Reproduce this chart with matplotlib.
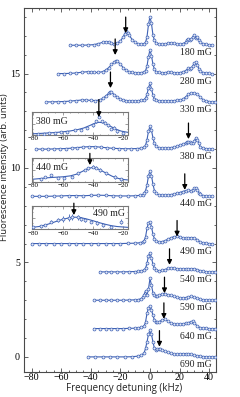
import matplotlib
matplotlib.use('Agg')
import matplotlib.pyplot as plt
from matplotlib.ticker import MultipleLocator

# ---------------- data ----------------
labels = ['180 mG', '280 mG', '330 mG', '380 mG', '440 mG',
          '490 mG', '540 mG', '590 mG', '640 mG', '690 mG']
offsets = [16.5, 15.0, 13.5, 11.0, 8.5, 6.0, 4.5, 3.0, 1.5, 0.0]

x180 = [-54, -50, -46, -42, -38, -35, -32, -30, -28, -26, -24, -22, -20, -18, -17, -16, -15, -14, -12, -10,
        -8, -6, -4, -3, -2, -1, 0, 1, 2, 3, 4, 6, 8, 10, 12, 14, 16, 18, 20, 22, 24, 25, 26, 27, 28, 29,
        30, 31, 32, 33, 34, 36, 38, 40, 42]
y180 = [0, 0, 0, 0.01, 0.03, 0.08, 0.15, 0.19, 0.17, 0.1, 0.08, 0.12, 0.22, 0.45, 0.62, 0.75, 0.66, 0.52, 0.3, 0.15,
        0.08, 0.06, 0.08, 0.15, 0.45, 1.1, 1.5, 1.15, 0.55, 0.25, 0.12, 0.06, 0.05, 0.06, 0.1, 0.14, 0.1, 0.05, 0.05, 0.08, 0.15, 0.3,
        0.32, 0.25, 0.35, 0.45, 0.55, 0.4, 0.45, 0.3, 0.15, 0.08, 0.04, 0.02, 0.01]

x280 = [-62, -58, -54, -50, -46, -42, -40, -38, -35, -32, -30, -28, -26, -24, -23, -22, -20, -18, -16, -14,
        -12, -10, -8, -6, -4, -3, -2, -1, 0, 1, 2, 3, 4, 6, 8, 10, 12, 14, 16, 18, 20, 22, 24, 26, 27, 28,
        29, 30, 31, 32, 33, 34, 36, 38, 40, 42]
y280 = [0, 0, 0.01, 0.03, 0.07, 0.1, 0.09, 0.06, 0.06, 0.1, 0.18, 0.3, 0.48, 0.62, 0.67, 0.64, 0.5, 0.3, 0.17, 0.1,
        0.06, 0.04, 0.04, 0.05, 0.08, 0.15, 0.4, 0.9, 1.25, 0.95, 0.5, 0.22, 0.1, 0.06, 0.04, 0.05, 0.07, 0.07, 0.05, 0.04,
        0.05, 0.08, 0.15, 0.28, 0.22, 0.3, 0.42, 0.55, 0.62, 0.45, 0.25, 0.12, 0.05, 0.02, 0.01, 0.0]

x330 = [-70, -66, -62, -58, -54, -50, -46, -43, -40, -37, -34, -32, -30, -28, -27, -26, -24, -22, -20, -18,
        -16, -14, -12, -10, -8, -6, -4, -3, -2, -1, 0, 1, 2, 3, 4, 6, 8, 10, 12, 14, 16, 18, 20, 22, 24, 26,
        28, 30, 32, 34, 36, 38, 40, 42, 44]
y330 = [0, 0, 0.01, 0.02, 0.04, 0.07, 0.1, 0.1, 0.08, 0.07, 0.1, 0.18, 0.3, 0.45, 0.52, 0.5, 0.38, 0.25, 0.15, 0.1,
        0.07, 0.05, 0.04, 0.05, 0.06, 0.08, 0.12, 0.2, 0.4, 0.75, 0.98, 0.7, 0.35, 0.15, 0.08, 0.06, 0.05, 0.05, 0.06, 0.06,
        0.07, 0.08, 0.1, 0.14, 0.25, 0.4, 0.48, 0.47, 0.4, 0.25, 0.1, 0.04, 0.02, 0.0, 0.0]

x380 = [-77, -73, -69, -65, -61, -57, -53, -49, -45, -41, -37, -33, -29, -25, -21, -17, -13, -9, -6, -4,
        -3, -2, -1, 0, 1, 2, 3, 4, 6, 8, 10, 12, 14, 16, 18, 20, 22, 24, 25, 26, 27, 28, 29, 30, 31, 32,
        33, 34, 36, 38, 40, 42]
y380 = [0, 0, 0, 0.01, 0.02, 0.03, 0.05, 0.08, 0.11, 0.13, 0.13, 0.1, 0.07, 0.04, 0.03, 0.02, 0.02, 0.03, 0.05, 0.1,
        0.2, 0.5, 0.95, 1.2, 1.0, 0.6, 0.3, 0.15, 0.07, 0.05, 0.05, 0.06, 0.08, 0.1, 0.14, 0.2, 0.26, 0.32, 0.36, 0.4,
        0.36, 0.3, 0.34, 0.45, 0.58, 0.5, 0.3, 0.12, 0.04, 0.02, 0.0, 0.0]

x440 = [-80, -75, -70, -65, -60, -55, -50, -45, -40, -35, -30, -25, -20, -15, -10, -7, -5, -4, -3, -2,
        -1, 0, 1, 2, 3, 4, 6, 8, 10, 12, 14, 16, 18, 20, 22, 24, 26, 28, 29, 30, 31, 32, 33, 34, 36, 38,
        40, 42]
y440 = [0, 0, 0, 0.01, 0.02, 0.04, 0.04, 0.03, 0.05, 0.06, 0.05, 0.03, 0.02, 0.02, 0.03, 0.05, 0.08, 0.15, 0.3, 0.6,
        1.1, 1.34, 1.1, 0.65, 0.3, 0.15, 0.08, 0.06, 0.06, 0.07, 0.09, 0.12, 0.16, 0.2, 0.25, 0.3, 0.32, 0.3, 0.34, 0.42,
        0.44, 0.35, 0.2, 0.1, 0.04, 0.02, 0.0, 0.0]

x490 = [-80, -75, -70, -65, -60, -55, -50, -45, -40, -35, -30, -25, -20, -15, -10, -7, -5, -4, -3, -2,
        -1, 0, 1, 2, 3, 4, 6, 8, 10, 12, 14, 16, 18, 20, 22, 24, 26, 28, 30, 32, 34, 36, 38, 40, 42]
y490 = [0, 0, 0, 0, 0, 0, 0, 0, 0, 0, 0, 0, 0, 0.01, 0.02, 0.04, 0.08, 0.15, 0.35, 0.8,
        1.1, 1.15, 0.9, 0.5, 0.25, 0.12, 0.08, 0.1, 0.15, 0.22, 0.3, 0.36, 0.38, 0.36, 0.3, 0.28, 0.3, 0.32, 0.3, 0.2,
        0.08, 0.03, 0.01, 0.0, 0.0]

x540 = [-34, -30, -26, -22, -18, -14, -10, -8, -6, -4, -3, -2, -1, 0, 1, 2, 3, 4, 6, 8,
        10, 12, 14, 16, 18, 20, 22, 24, 26, 28, 30, 32, 34, 36, 38, 40, 42, 44]
y540 = [0, 0, 0, 0, 0, 0.01, 0.02, 0.03, 0.05, 0.1, 0.2, 0.45, 0.85, 1.02, 0.75, 0.4, 0.2, 0.1, 0.06, 0.08,
        0.12, 0.18, 0.2, 0.19, 0.17, 0.15, 0.15, 0.16, 0.17, 0.16, 0.17, 0.12, 0.06, 0.03, 0.01, 0.0, 0.0, 0.0]

x590 = [-38, -34, -30, -26, -22, -18, -14, -10, -8, -6, -5, -4, -3, -2, -1, 0, 1, 2, 3, 4,
        5, 6, 8, 10, 12, 14, 16, 18, 20, 22, 24, 26, 28, 30, 32, 34, 36, 38, 40, 42, 44]
y590 = [0, 0, 0, 0, 0, 0, 0.01, 0.02, 0.03, 0.08, 0.15, 0.3, 0.5, 0.3, 0.6, 1.15, 0.8, 0.4, 0.25, 0.2,
        0.22, 0.26, 0.32, 0.35, 0.3, 0.25, 0.2, 0.15, 0.12, 0.12, 0.14, 0.17, 0.2, 0.18, 0.1, 0.05, 0.02, 0.01, 0.0, 0.0, 0.0]

x640 = [-38, -34, -30, -26, -22, -18, -14, -10, -8, -6, -4, -3, -2, -1, 0, 1, 2, 3, 4, 5,
        6, 8, 10, 12, 14, 16, 18, 20, 22, 24, 26, 28, 29, 30, 32, 34, 36, 38, 40, 42, 44]
y640 = [0, 0, 0, 0, 0, 0, 0.01, 0.02, 0.03, 0.06, 0.12, 0.35, 0.8, 1.1, 1.18, 1.0, 0.7, 0.45, 0.35, 0.33,
        0.36, 0.44, 0.48, 0.4, 0.3, 0.25, 0.22, 0.22, 0.25, 0.28, 0.32, 0.36, 0.38, 0.3, 0.12, 0.05, 0.02, 0.01, 0.0, 0.0, 0.0]

x690 = [-42, -37, -32, -27, -22, -17, -12, -8, -6, -4, -3, -2, -1, 0, 1, 2, 3, 4, 5, 6,
        7, 8, 10, 12, 14, 16, 18, 20, 22, 24, 26, 28, 30, 32, 34, 36, 38, 40, 42, 44]
y690 = [0, 0, 0, 0, 0, 0, 0.01, 0.04, 0.08, 0.2, 0.45, 0.8, 1.2, 1.4, 1.2, 0.8, 0.45, 0.35, 0.4, 0.42,
        0.4, 0.36, 0.3, 0.24, 0.18, 0.14, 0.13, 0.15, 0.17, 0.17, 0.16, 0.13, 0.1, 0.06, 0.03, 0.02, 0.01, 0.0, 0.0, 0.0]

traces_x = [x180, x280, x330, x380, x440, x490, x540, x590, x640, x690]
traces_y = [y180, y280, y330, y380, y440, y490, y540, y590, y640, y690]

# arrow positions (kHz) and tip heights above each baseline
arrow_x = [-16.4, -23.5, -26.7, 26.0, 23.5, 18.3, 13.2, 9.8, 9.4, 6.4]
arrow_tip = [0.64, 0.98, 0.73, 0.53, 0.34, 0.37, 0.37, 0.37, 0.51, 0.54]

# insets (left wing, zoomed)
inset_labels = ['380 mG', '440 mG', '490 mG']
in380_x = [-77, -73, -69, -65, -61, -57, -52, -48, -44, -40, -38, -36, -34, -32, -30, -28, -26, -24, -20]
in380_y = [0.05, 0.06, 0.07, 0.08, 0.12, 0.14, 0.2, 0.24, 0.3, 0.42, 0.6, 0.8, 0.6, 0.55, 0.42, 0.26, 0.33, 0.16, 0.1]
in380_e = [0.03, 0.03, 0.03, 0.03, 0.03, 0.03, 0.04, 0.04, 0.04, 0.05, 0.06, 0.06, 0.06, 0.05, 0.05, 0.05, 0.06, 0.05, 0.04]
fit380_x = [-81, -75, -70, -65, -60, -55, -50, -46, -42, -39, -36, -33, -30, -27, -24, -21, -16]
fit380_y = [0.05, 0.07, 0.09, 0.11, 0.14, 0.18, 0.24, 0.31, 0.42, 0.51, 0.56, 0.54, 0.45, 0.34, 0.24, 0.17, 0.11]

in440_x = [-75, -72, -68, -63, -59, -54, -50, -45, -43, -40, -38, -35, -31, -25, -21]
in440_y = [0.1, 0.2, 0.29, 0.15, 0.17, 0.21, 0.36, 0.5, 0.57, 0.64, 0.6, 0.5, 0.36, 0.2, 0.1]
in440_e = [0.04, 0.05, 0.05, 0.05, 0.05, 0.05, 0.06, 0.06, 0.06, 0.07, 0.07, 0.07, 0.07, 0.1, 0.05]
fit440_x = [-81, -76, -70, -65, -60, -55, -51, -47, -44, -41, -38, -35, -31, -27, -23, -19, -16]
fit440_y = [0.1, 0.13, 0.17, 0.19, 0.21, 0.25, 0.32, 0.44, 0.54, 0.6, 0.58, 0.5, 0.36, 0.23, 0.14, 0.09, 0.07]

in490_x = [-80, -75, -72, -68, -63, -60, -56, -54, -50, -48, -45, -41, -37, -33, -28, -21]
in490_y = [0.09, 0.14, 0.18, 0.33, 0.4, 0.44, 0.5, 0.54, 0.51, 0.44, 0.4, 0.33, 0.26, 0.18, 0.11, 0.33]
in490_e = [0.04, 0.05, 0.05, 0.08, 0.1, 0.14, 0.14, 0.12, 0.12, 0.1, 0.1, 0.08, 0.08, 0.06, 0.05, 0.1]
fit490_x = [-81, -76, -72, -68, -64, -60, -56, -52, -48, -44, -40, -36, -32, -28, -24, -20, -16]
fit490_y = [0.08, 0.12, 0.18, 0.26, 0.35, 0.43, 0.49, 0.52, 0.5, 0.44, 0.37, 0.29, 0.22, 0.16, 0.12, 0.1, 0.08]

inset_arrow_x = [-36.0, -42.0, -52.7]
inset_arrow_tip = [0.79, 0.71, 0.61]
inset_arrow_tail = [1.56, 1.21, 1.12]

# ---------------- style ----------------
BLUE = '#3f62b5'
MFC = '#e4eaf7'
SPINE = '#4a4a4a'
SERIF = ['Liberation Serif', 'DejaVu Serif']
SANS = ['Open Sans', 'DejaVu Sans']

W, H = 240, 397
fig = plt.figure(figsize=(W / 100, H / 100), dpi=100)
ax = fig.add_axes([24 / W, 1 - 372 / H, 192 / W, 364 / H])

for xs, ys, off, lab, ax_x, tip in zip(traces_x, traces_y, offsets, labels, arrow_x, arrow_tip):
    yy = [v + off for v in ys]
    ax.plot(xs, yy, color=BLUE, lw=0.8, marker='o', ms=2.1, mfc=MFC, mec=BLUE, mew=0.5, zorder=3)
    ax.text(30.8, off - 0.4, lab, fontsize=7, family=SERIF, ha='center', va='center', color='#222')
    ax.annotate('', xy=(ax_x, off + tip), xytext=(ax_x, off + tip + 0.85),
                arrowprops=dict(arrowstyle='-|>', color='k', lw=0.9, mutation_scale=7,
                                shrinkA=0, shrinkB=0), zorder=5)

ax.set_xlim(-85.1, 44.6)
ax.set_ylim(-0.8, 18.47)
ax.xaxis.set_major_locator(MultipleLocator(20))
ax.xaxis.set_minor_locator(MultipleLocator(5))
ax.yaxis.set_major_locator(MultipleLocator(5))
ax.yaxis.set_minor_locator(MultipleLocator(1))
ax.tick_params(which='both', direction='in', top=True, right=True, color=SPINE, width=0.6)
ax.tick_params(which='major', length=3, labelsize=7.2)
ax.tick_params(axis='x', which='major', pad=1)
ax.tick_params(axis='y', which='major', pad=3)
ax.tick_params(which='minor', length=1.5)
for lab in ax.get_xticklabels() + ax.get_yticklabels():
    lab.set_family(SERIF)
for s in ax.spines.values():
    s.set_color(SPINE)
    s.set_linewidth(0.8)

fig.text(124 / W, 1 - 388 / H, 'Frequency detuning (kHz)', family=SANS, fontsize=7,
         ha='center', va='center', color='#222')
fig.text(5 / W, 1 - 167.5 / H, 'Fluorescence intensity (arb. units)', family=SANS, fontsize=6.8,
         ha='center', va='center', rotation=90, color='#222')

# ---------------- insets ----------------
inset_data = [
    (in380_x, in380_y, in380_e, fit380_x, fit380_y, 112.3, 135.0, 'left'),
    (in440_x, in440_y, in440_e, fit440_x, fit440_y, 158.3, 181.7, 'left'),
    (in490_x, in490_y, in490_e, fit490_x, fit490_y, 206.0, 229.3, 'right'),
]
for (px, py, pe, fx, fy, top, bot, side), lab, axx, tip, tail in zip(
        inset_data, inset_labels, inset_arrow_x, inset_arrow_tip, inset_arrow_tail):
    ia = fig.add_axes([31.7 / W, 1 - bot / H, 96.6 / W, (bot - top) / H])
    ia.plot(fx, fy, color=BLUE, lw=0.8, zorder=2)
    ia.errorbar(px, py, yerr=pe, fmt='o', ms=2.1, mfc=MFC, mec=BLUE, mew=0.5,
                ecolor=BLUE, elinewidth=0.6, capsize=0, zorder=3)
    ia.set_xlim(-80.9, -16.3)
    ia.set_ylim(0, 1)
    ia.xaxis.set_major_locator(MultipleLocator(20))
    ia.xaxis.set_minor_locator(MultipleLocator(5))
    ia.yaxis.set_major_locator(MultipleLocator(0.5))
    ia.yaxis.set_minor_locator(MultipleLocator(0.25))
    ia.tick_params(which='both', direction='in', top=True, right=True, color='#777', width=0.5)
    ia.tick_params(which='major', length=2, labelsize=5, pad=1)
    ia.tick_params(which='minor', length=1)
    ia.tick_params(axis='y', labelleft=False)
    for t in ia.get_xticklabels():
        t.set_family(SERIF)
    for s in ia.spines.values():
        s.set_color('#777')
        s.set_linewidth(0.8)
    if side == 'left':
        ia.text(0.04, 0.6, lab, transform=ia.transAxes, fontsize=7, family=SERIF,
                ha='left', va='center', color='#222')
    else:
        ia.text(0.96, 0.68, lab, transform=ia.transAxes, fontsize=7, family=SERIF,
                ha='right', va='center', color='#222')
    ia.annotate('', xy=(axx, tip), xytext=(axx, tail), annotation_clip=False,
                arrowprops=dict(arrowstyle='-|>', color='k', lw=0.9, mutation_scale=7,
                                shrinkA=0, shrinkB=0), zorder=5)

fig.savefig('out.png', dpi=100)
